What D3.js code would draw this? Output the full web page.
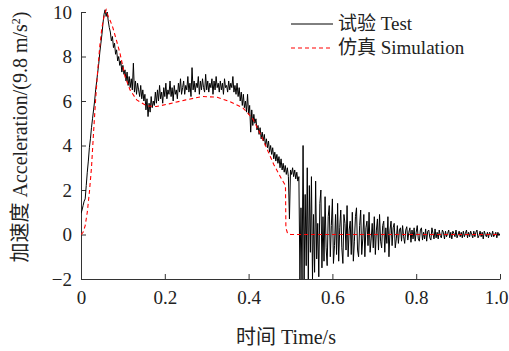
<!DOCTYPE html>
<html>
<head>
<meta charset="utf-8">
<script src="https://cdn.jsdelivr.net/npm/d3@7"></script>
<style>
  body { margin: 0; background: #fff; }
  text { font-family: "Liberation Serif", "Times New Roman", "Noto Sans CJK SC", serif; fill: #222; }
</style>
</head>
<body>
<svg id="chart" width="509" height="351"></svg>
<script>
// measured test signal, one sample every testStep seconds starting at t = 0
var testStep = 0.0025;
var testAccel = [
  0.95, 1.1, 1.3, 1.5, 1.6, 2.2, 2.8, 3.3, 3.9, 4.3, 4.8, 5.2, 5.6, 6.0, 6.5, 6.9, 7.3, 7.7, 8.2, 8.6, 9.0, 9.5, 9.9, 10.1,
  9.8, 10.0, 9.6, 9.3, 9.1, 8.7, 8.9, 8.4, 8.6, 8.1, 8.3, 7.8, 8.0, 7.6, 7.8, 7.3, 7.6, 7.2, 7.4, 6.9, 7.3, 6.7, 7.1, 6.6, 7.0,
  6.5, 7.7, 6.4, 6.9, 6.3, 6.8, 6.5, 6.2, 6.7, 6.1, 6.5, 6.0,
  6.3, 5.6, 6.1, 5.3, 5.9, 5.5, 6.2, 5.7, 6.0, 5.8, 6.4, 5.9,
  6.5, 6.0, 6.7, 6.1, 6.4, 5.9, 6.6, 6.2, 6.8, 6.1, 6.5, 6.3,
  6.9, 6.2, 6.6, 6.0, 6.7, 6.3, 6.5, 6.1, 6.8, 6.4, 7.0, 6.3,
  6.6, 6.9, 6.3, 6.7, 6.5, 7.1, 6.4, 6.8, 6.2, 7.5, 6.5, 6.9,
  6.4, 6.8, 6.6, 7.1, 6.3, 6.9, 6.5, 7.0, 6.6, 6.4, 7.2, 6.5,
  6.9, 6.4, 6.8, 6.6, 7.0, 6.3, 6.9, 6.5, 7.1, 6.6, 6.8, 6.4,
  6.9, 6.5, 6.8, 6.3, 7.0, 6.6, 6.7, 6.4, 6.9, 6.5, 6.8, 6.6,
  7.1, 6.4, 6.7, 6.3, 6.8, 6.2, 6.6, 6.0, 6.4, 5.8, 6.3, 5.7,
  6.0, 5.5, 6.3, 5.4, 5.8, 4.6, 5.6, 4.9, 5.4, 5.0, 5.2, 4.7,
  4.9, 4.5, 4.8, 4.3, 4.6, 4.2, 4.5, 4.0, 4.3, 3.9, 4.2, 3.7,
  4.0, 3.6, 3.9, 3.4, 3.7, 3.3, 3.6, 3.2, 3.5, 3.0, 3.4, 2.9,
  3.2, 2.8, 3.1, 2.7, 3.0, 2.6, 0.7, 2.9,
  2.7, 3.0, 2.6, 2.9, 2.5, 2.8, 2.4, 2.6,
  -2.0, 1.2, -2.0, 4.0, -2.0, 1.8, -1.4, 3.0, -2.0, 2.2, -0.8, 2.6,
  -2.0, 0.9, -1.7, 2.4, -1.1, 0.5, -1.9, 1.4, 2.0, -1.5, 0.8, -1.2,
  1.7, -0.6, -1.4, 0.8, 1.3, -1.0, 0.4, 1.6, -1.3, -0.5, 0.9, -0.9,
  1.4, -1.2, 0.3, 1.1, -0.6, -1.3, 0.9, 0.5, -0.7, 1.3, -1.0, 0.2,
  0.6, -0.9, 1.0, -1.2, -0.3, 0.8, 1.2, -0.7, -1.0, 0.4, 1.1, -0.9,
  -0.2, 0.9, -1.0, 0.3, 0.6, -0.5, 1.0, -0.8, -0.2, 0.5, -0.6, 0.8,
  -0.9, 0.2, 0.7, -0.7, 0.9, -0.3, -0.6, 0.4, 0.6, -0.8, 0.3, -0.4,
  0.8, -1.0, 0.2, 0.6, -0.5, 0.3, 0.5, -0.6, -0.2, 0.4, -0.4, 0.2,
  0.3, -0.3, 0.4, -0.1, -0.4, 0.2, 0.35, -0.25, 0.1, 0.3, -0.35, 0.2,
  -0.2, 0.3, -0.3, 0.1, 0.4, -0.2, -0.3, 0.2, 0.3, -0.25, 0.1, -0.2,
  0.25, -0.3, 0.15, 0.2, -0.15, -0.25, 0.3, 0.05, -0.2, 0.25, -0.15, 0.1,
  -0.2, 0.2, -0.05, -0.15, 0.2, 0.1, -0.2, 0.15, -0.1, 0.05, 0.2, -0.15,
  0.1, -0.2, 0.15, 0.05, -0.1, 0.2, -0.15, 0.0, 0.15, -0.1, 0.1, -0.15,
  0.15, -0.1, 0.05, 0.2, -0.15, 0.1, -0.1, 0.15, 0.0, -0.15, 0.15, -0.1,
  0.1, 0.2, -0.15, -0.05, 0.15, -0.1, 0.1, -0.2, 0.15, 0.0, -0.1, 0.1,
  -0.15, 0.1, 0.05, -0.1, 0.15, -0.1, 0.0, 0.1, -0.15, 0.1, -0.05, 0.05
];

// simulation curve
var simTime  = [0, 0.005, 0.01, 0.015, 0.02, 0.025, 0.03, 0.035, 0.04, 0.045, 0.05, 0.055, 0.06, 0.065, 0.07, 0.076, 0.085, 0.093, 0.105, 0.117, 0.133, 0.157, 0.18, 0.21, 0.25, 0.29, 0.325, 0.356, 0.387, 0.41, 0.43, 0.445, 0.46, 0.47, 0.48, 0.488, 0.489, 0.493, 0.5, 1.0];
var simAccel = [0, 0.1, 0.4, 1.0, 1.9, 3.0, 4.6, 6.1, 7.4, 8.5, 9.3, 9.8, 10.1, 9.8, 9.6, 9.3, 8.7, 8.15, 7.1, 6.5, 6.05, 5.78, 5.75, 5.87, 6.05, 6.2, 6.17, 5.97, 5.68, 5.2, 4.45, 3.8, 3.15, 2.8, 2.45, 2.2, 0.3, 0.05, 0, 0];

var xTicks = [0, 0.2, 0.4, 0.6, 0.8, 1.0];
var xTickLabels = ["0", "0.2", "0.4", "0.6", "0.8", "1.0"];
var yTicks = [-2, 0, 2, 4, 6, 8, 10];
var yTickLabels = ["\u22122", "0", "2", "4", "6", "8", "10"];

var svg = d3.select("#chart");
var mLeft = 81, mRight = 500, mTop = 12, mBottom = 279;

var x = d3.scaleLinear().domain([0, 1]).range([mLeft, mRight]);
var y = d3.scaleLinear().domain([-2, 10]).range([mBottom, mTop]);

svg.append("clipPath").attr("id", "plotclip")
  .append("rect")
  .attr("x", mLeft).attr("y", 0)
  .attr("width", mRight - mLeft).attr("height", mBottom);

// axes, ticks point inwards
var xAxis = d3.axisBottom(x)
  .tickValues(xTicks)
  .tickFormat(function (d, i) { return xTickLabels[i]; })
  .tickSizeInner(-5).tickSizeOuter(0).tickPadding(12);
var yAxis = d3.axisLeft(y)
  .tickValues(yTicks)
  .tickFormat(function (d, i) { return yTickLabels[i]; })
  .tickSizeInner(-5).tickSizeOuter(0).tickPadding(9);

var gx = svg.append("g").attr("transform", "translate(0," + mBottom + ")").call(xAxis);
var gy = svg.append("g").attr("transform", "translate(" + mLeft + ",0)").call(yAxis);
[gx, gy].forEach(function (g) {
  g.selectAll("text").style("font-size", "19px").attr("fill", "#222")
    .style("font-family", '"Liberation Serif", serif');
  g.selectAll("line").attr("stroke", "#333");
  g.select(".domain").attr("stroke", "#333");
});
// last x label sits against the page edge
gx.selectAll(".tick text").filter(function (d) { return d === 1; })
  .attr("text-anchor", "end").attr("dx", "8");

var plot = svg.append("g").attr("clip-path", "url(#plotclip)");

var testLine = d3.line()
  .x(function (d, i) { return x(i * testStep); })
  .y(function (d) { return y(d); });
plot.append("path")
  .datum(testAccel)
  .attr("d", testLine)
  .attr("fill", "none")
  .attr("stroke", "#000")
  .attr("stroke-width", 1);

var simLine = d3.line()
  .x(function (d) { return x(d); })
  .y(function (d, i) { return y(simAccel[i]); });
plot.append("path")
  .datum(simTime)
  .attr("d", simLine)
  .attr("fill", "none")
  .attr("stroke", "#ff0000")
  .attr("stroke-width", 1.1)
  .attr("stroke-dasharray", "4,3");

// legend
var legend = svg.append("g");
legend.append("line")
  .attr("x1", 291).attr("x2", 333).attr("y1", 24).attr("y2", 24)
  .attr("stroke", "#000").attr("stroke-width", 1);
legend.append("text").attr("x", 338).attr("y", 30)
  .style("font-size", "19px").text("试验 Test");
legend.append("line")
  .attr("x1", 291).attr("x2", 333).attr("y1", 48).attr("y2", 48)
  .attr("stroke", "#ff0000").attr("stroke-width", 1.1)
  .attr("stroke-dasharray", "4,3");
legend.append("text").attr("x", 338).attr("y", 54)
  .style("font-size", "19px").text("仿真 Simulation");

// axis titles
svg.append("text")
  .attr("x", 286).attr("y", 344)
  .attr("text-anchor", "middle")
  .style("font-size", "20px")
  .text("时间 Time/s");

var yTitle = svg.append("text")
  .attr("transform", "translate(27,137) rotate(-90)")
  .attr("text-anchor", "middle")
  .style("font-size", "20px");
yTitle.append("tspan").text("加速度 Acceleration/(9.8 m/s");
yTitle.append("tspan").attr("baseline-shift", "super").style("font-size", "12px").text("2");
yTitle.append("tspan").text(")");
</script>
</body>
</html>
